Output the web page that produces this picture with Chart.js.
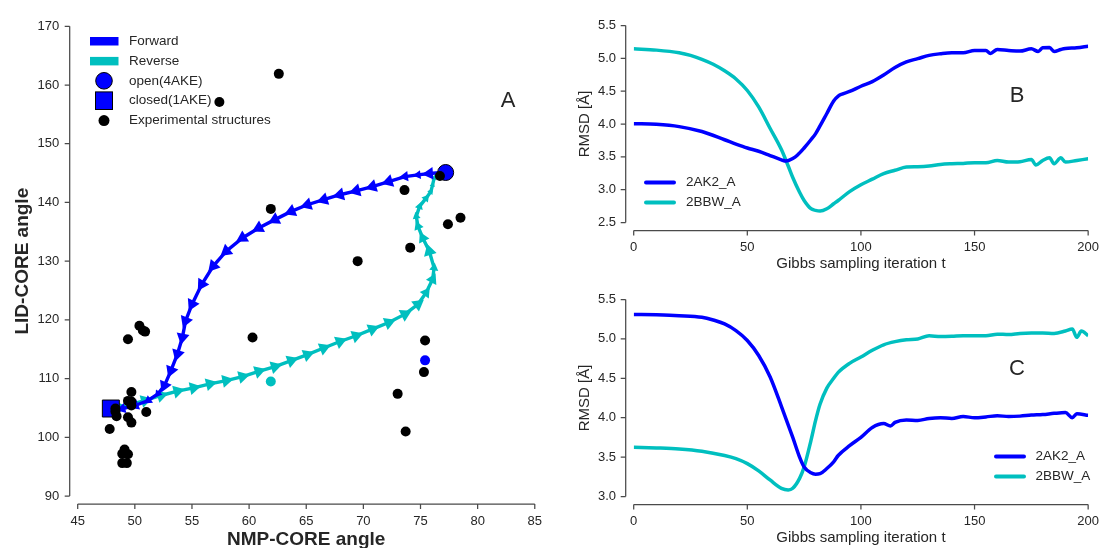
<!DOCTYPE html>
<html>
<head>
<meta charset="utf-8">
<script src="https://cdn.jsdelivr.net/npm/chart.js@4.4.0/dist/chart.umd.min.js"></script>
<style>
html, body { margin: 0; padding: 0; background: #fff; overflow: hidden; width: 1116px; height: 548px; }
canvas { position: absolute; display: block; }
</style>
</head>
<body>
<canvas id="chartA" width="560" height="560" style="left:0;top:0"></canvas>
<canvas id="chartB" width="556" height="274" style="left:560px;top:0"></canvas>
<canvas id="chartC" width="556" height="274" style="left:560px;top:274px"></canvas>
<script>
// ---- panel A : NMP-CORE vs LID-CORE angle ----
const expNMP = [62.6, 57.4, 76.7, 73.6, 61.9, 78.5, 77.4, 74.1, 69.5, 50.4, 50.7, 50.9, 49.4, 60.3, 75.4, 75.3, 73.0, 73.7, 47.8,
                49.7, 49.4, 49.7, 49.7, 48.3, 48.3, 48.4, 49.4, 49.7, 51.0, 49.1, 48.9, 49.4, 48.9, 49.3];
const expLID = [161.9, 157.1, 144.5, 142.1, 138.9, 137.4, 136.3, 132.3, 130.0, 119.0, 118.2, 118.0, 116.7, 117.0, 116.5, 111.1, 107.4, 101.0, 101.4,
                107.7, 106.2, 106.1, 105.4, 104.9, 104.4, 103.6, 103.4, 102.5, 104.3, 97.9, 97.2, 97.1, 95.6, 95.6];
const markedNMP = [75.4, 61.9];
const markedLID = [113.1, 109.5];
const openNMP = [77.2], openLID = [145.1];
const closedNMP = [47.9], closedLID = [104.9];

const fwdNMP = [77.19, 75.77, 74.78, 73.64, 72.22, 70.79, 69.37, 67.95, 66.53, 65.10, 63.69, 62.26, 60.84, 59.42,
                58.00, 56.86, 55.86, 55.01, 54.44, 54.16, 53.73, 53.16, 52.59, 52.02, 51.17, 50.03, 48.89, 47.90];
const fwdLID = [145.14, 144.92, 144.69, 144.41, 143.56, 142.71, 141.98, 141.31, 140.46, 139.61, 138.47, 137.07, 135.64, 133.95,
                131.69, 129.15, 126.05, 122.66, 119.83, 117.0, 114.19, 111.36, 108.81, 107.41, 106.27, 105.42, 104.86, 104.97];
const revNMP = [47.90, 48.89, 50.89, 52.30, 53.73, 55.15, 56.57, 58.00, 59.42, 60.84, 62.26, 63.69, 65.10, 66.53, 67.95, 69.37,
                70.79, 72.22, 73.64, 74.78, 75.49, 76.06, 76.19, 75.77, 75.20, 74.78, 74.63, 74.92, 75.49, 75.91, 76.06, 76.19, 76.48];
const revLID = [104.97, 105.14, 106.27, 107.12, 107.85, 108.42, 109.10, 109.66, 110.34, 111.24, 112.03, 113.05, 114.07, 115.20, 116.32, 117.29,
                118.42, 119.54, 120.97, 122.66, 124.63, 126.90, 128.86, 131.69, 133.95, 135.93, 137.63, 139.32, 140.73, 141.86, 143.0, 144.12, 144.8];

// ---- panel B : RMSD over Gibbs iterations ----
const tB_2AK2 = [0, 10, 20, 30, 40, 45, 50, 55, 60, 65, 67, 70, 72, 75, 78, 80, 82, 85, 88, 90, 92, 95, 100, 105, 110, 115, 120, 125,
                 130, 135, 140, 145, 150, 155, 157, 160, 165, 170, 175, 178, 180, 183, 185, 188, 190, 195, 200];
const rmsdB_2AK2 = [4.005, 3.995, 3.96, 3.885, 3.76, 3.695, 3.635, 3.585, 3.52, 3.455, 3.435, 3.475, 3.525, 3.635, 3.76, 3.85, 3.97, 4.16,
                    4.35, 4.425, 4.46, 4.495, 4.575, 4.645, 4.745, 4.86, 4.945, 4.995, 5.045, 5.07, 5.085, 5.085, 5.12, 5.12, 5.075, 5.135,
                    5.12, 5.11, 5.145, 5.105, 5.16, 5.165, 5.105, 5.135, 5.15, 5.16, 5.185];
const tB_2BBW = [0, 10, 20, 25, 30, 35, 40, 45, 50, 55, 60, 65, 68, 70, 73, 75, 78, 80, 82, 85, 88, 90, 95, 100, 105, 110, 115, 120,
                 125, 130, 135, 140, 145, 150, 155, 160, 165, 170, 175, 177, 180, 183, 185, 188, 190, 195, 200];
const rmsdB_2BBW = [5.145, 5.125, 5.085, 5.045, 4.985, 4.91, 4.81, 4.685, 4.51, 4.26, 3.935, 3.61, 3.36, 3.185, 2.96, 2.835, 2.71, 2.685,
                    2.675, 2.71, 2.785, 2.835, 2.97, 3.075, 3.16, 3.245, 3.295, 3.345, 3.35, 3.36, 3.385, 3.395, 3.40, 3.41, 3.41, 3.445,
                    3.42, 3.425, 3.46, 3.375, 3.445, 3.485, 3.395, 3.485, 3.42, 3.445, 3.47];

// ---- panel C ----
const tC_2AK2 = [0, 10, 20, 30, 35, 40, 45, 50, 55, 60, 65, 70, 73, 75, 78, 80, 82, 85, 88, 90, 95, 100, 105, 110, 113, 115, 120,
                 125, 130, 135, 140, 145, 150, 155, 160, 165, 170, 175, 180, 185, 190, 193, 195, 200];
const rmsdC_2AK2 = [5.31, 5.305, 5.295, 5.275, 5.24, 5.19, 5.105, 4.98, 4.79, 4.52, 4.145, 3.75, 3.50, 3.375, 3.30, 3.283, 3.29, 3.355,
                    3.44, 3.52, 3.645, 3.75, 3.875, 3.925, 3.895, 3.94, 3.97, 3.965, 3.99, 4.00, 3.99, 4.015, 4.00, 4.01, 4.025, 4.015,
                    4.02, 4.033, 4.04, 4.055, 4.065, 4.00, 4.05, 4.03];
const tC_2BBW = [0, 10, 20, 30, 40, 45, 50, 55, 60, 65, 68, 70, 73, 75, 78, 80, 82, 85, 88, 90, 95, 100, 105, 110, 115, 120, 125,
                 130, 135, 140, 145, 150, 155, 160, 165, 170, 175, 180, 185, 190, 193, 195, 197, 200];
const rmsdC_2BBW = [3.625, 3.617, 3.604, 3.575, 3.52, 3.48, 3.417, 3.325, 3.21, 3.104, 3.083, 3.104, 3.23, 3.375, 3.71, 3.96, 4.17, 4.375,
                    4.50, 4.575, 4.69, 4.77, 4.855, 4.925, 4.965, 4.99, 5.00, 5.04, 5.03, 5.033, 5.04, 5.04, 5.04, 5.06, 5.055, 5.07,
                    5.075, 5.075, 5.07, 5.10, 5.125, 5.02, 5.10, 5.04];

const BLUE = '#0000ff', CYAN = '#00bfbf', TXT = '#262626', SPINE = '#4a4a4a';
const FONT = '"Liberation Sans", Arial, sans-serif';

const pts = (xs, ys) => xs.map((x, i) => ({ x: x, y: ys[i] }));

// seaborn-style offset spines with outward ticks
const spines = {
  id: 'spines',
  afterDraw(chart) {
    const ctx = chart.ctx, area = chart.chartArea;
    const xs = chart.scales.x, ys = chart.scales.y;
    const off = 8, tl = 5;
    const yb = area.bottom + off, xl = area.left - off;
    ctx.save();
    ctx.strokeStyle = SPINE;
    ctx.lineWidth = 1.25;
    ctx.beginPath();
    ctx.moveTo(xs.getPixelForValue(xs.min), yb);
    ctx.lineTo(xs.getPixelForValue(xs.max), yb);
    xs.ticks.forEach(t => { const p = xs.getPixelForValue(t.value); ctx.moveTo(p, yb); ctx.lineTo(p, yb + tl); });
    ctx.moveTo(xl, ys.getPixelForValue(ys.min));
    ctx.lineTo(xl, ys.getPixelForValue(ys.max));
    ys.ticks.forEach(t => { const p = ys.getPixelForValue(t.value); ctx.moveTo(xl, p); ctx.lineTo(xl - tl, p); });
    ctx.stroke();
    ctx.restore();
  }
};

// panel letter + hand placed legend
const decor = {
  id: 'decor',
  afterDraw(chart, args, o) {
    const ctx = chart.ctx;
    ctx.save();
    ctx.fillStyle = TXT;
    ctx.textBaseline = 'middle';
    ctx.textAlign = 'center';
    ctx.font = '22px ' + FONT;
    ctx.fillText(o.letter, o.letterX, o.letterY);
    ctx.textAlign = 'left';
    ctx.font = '13.5px ' + FONT;
    o.items.forEach((it, i) => {
      const y = o.y + i * o.step;
      ctx.fillStyle = it.color;
      ctx.strokeStyle = '#000';
      ctx.lineWidth = 1;
      if (it.kind === 'box') {
        ctx.fillRect(o.x - 14, y - 4, 28.5, 8.5);
      } else if (it.kind === 'line') {
        ctx.strokeStyle = it.color; ctx.lineWidth = 4; ctx.lineCap = 'round';
        ctx.beginPath(); ctx.moveTo(o.x - 14, y); ctx.lineTo(o.x + 14, y); ctx.stroke();
      } else if (it.kind === 'circle') {
        ctx.beginPath(); ctx.arc(o.x, y, 8.3, 0, Math.PI * 2); ctx.fill(); ctx.stroke();
      } else if (it.kind === 'rect') {
        ctx.fillRect(o.x - 8.5, y - 8.8, 17, 17.6); ctx.strokeRect(o.x - 8.5, y - 8.8, 17, 17.6);
      } else if (it.kind === 'dot') {
        ctx.beginPath(); ctx.arc(o.x, y, 5.5, 0, Math.PI * 2); ctx.fill();
      }
      ctx.fillStyle = TXT;
      ctx.fillText(it.label, o.textX, y);
    });
    ctx.restore();
  }
};

function segPix(c) {
  const d = c.dataset.data, i = c.dataIndex;
  const sx = c.chart.scales.x, sy = c.chart.scales.y;
  const a = d[Math.max(i - 1, 0)], b = d[Math.max(i, 1)];
  return { dx: sx.getPixelForValue(b.x) - sx.getPixelForValue(a.x), dy: sy.getPixelForValue(b.y) - sy.getPixelForValue(a.y) };
}
const arrowRot = c => { const s = segPix(c); return Math.atan2(s.dx, -s.dy) * 180 / Math.PI; };
const arrowSize = c => { if (c.dataIndex === 0) return 0; const s = segPix(c); return Math.min(7.5, Math.hypot(s.dx, s.dy) * 0.45); };

function pathSet(label, color, xs, ys) {
  return {
    label: label, data: pts(xs, ys), showLine: true, borderColor: color, borderWidth: 3.4,
    pointStyle: 'triangle', pointRadius: arrowSize, pointHoverRadius: arrowSize, rotation: arrowRot,
    pointBackgroundColor: color, pointBorderWidth: 0, tension: 0
  };
}

const tickFont = { family: FONT, size: 13 };

new Chart(document.getElementById('chartA'), {
  type: 'scatter',
  data: {
    datasets: [
      { label: 'Experimental structures', data: pts(expNMP, expLID), pointRadius: 5, pointHoverRadius: 5, backgroundColor: '#000', borderWidth: 0 },
      { label: 'marked', data: pts(markedNMP, markedLID), pointRadius: 5, pointHoverRadius: 5, backgroundColor: [BLUE, CYAN], borderWidth: 0 },
      { label: 'open(4AKE)', data: pts(openNMP, openLID), pointRadius: 8, pointHoverRadius: 8, backgroundColor: BLUE, borderColor: '#000', borderWidth: 1 },
      { label: 'closed(1AKE)', data: pts(closedNMP, closedLID), pointStyle: 'rect', pointRadius: 12, pointHoverRadius: 12, backgroundColor: BLUE, borderColor: '#000', borderWidth: 1 },
      pathSet('Forward', BLUE, fwdNMP, fwdLID),
      pathSet('Reverse', CYAN, revNMP, revLID)
    ]
  },
  options: {
    responsive: false, animation: false,
    layout: { padding: { left: 0, top: 22, right: 13.3, bottom: 0 } },
    plugins: {
      legend: { display: false }, tooltip: { enabled: false },
      decor: {
        letter: 'A', letterX: 508, letterY: 101,
        x: 104, textX: 129, y: 41, step: 19.9,
        items: [
          { kind: 'box', color: BLUE, label: 'Forward' },
          { kind: 'box', color: CYAN, label: 'Reverse' },
          { kind: 'circle', color: BLUE, label: 'open(4AKE)' },
          { kind: 'rect', color: BLUE, label: 'closed(1AKE)' },
          { kind: 'dot', color: '#000', label: 'Experimental structures' }
        ]
      }
    },
    scales: {
      x: {
        type: 'linear', min: 45, max: 85,
        grid: { display: false, drawTicks: false }, border: { display: false },
        ticks: { stepSize: 5, font: tickFont, color: TXT, padding: 18 },
        title: { display: true, text: 'NMP-CORE angle', color: TXT, font: { family: FONT, size: 19, weight: 'bold' }, padding: { top: 0, bottom: 9 } },
        afterFit: s => { s.height = 64; }
      },
      y: {
        type: 'linear', min: 90, max: 170,
        grid: { display: false, drawTicks: false }, border: { display: false },
        ticks: { stepSize: 10, font: tickFont, color: TXT, padding: 18.5 },
        title: { display: true, text: 'LID-CORE angle', color: TXT, font: { family: FONT, size: 19, weight: 'bold' }, padding: { top: 11, bottom: 0 } },
        afterFit: s => { s.width = 77.7; }
      }
    }
  },
  plugins: [spines, decor]
});

function rmsdChart(id, yMin, t1, v1, t2, v2, letter, letterY, legX, legTextX) {
  const line = (label, color, ts, vs) => ({
    label: label, data: pts(ts, vs), showLine: true, borderColor: color, borderWidth: 3.5,
    pointRadius: 0, pointHoverRadius: 0, cubicInterpolationMode: 'monotone'
  });
  return new Chart(document.getElementById(id), {
    type: 'scatter',
    data: { datasets: [line('2AK2_A', BLUE, t1, v1), line('2BBW_A', CYAN, t2, v2)] },
    options: {
      responsive: false, animation: false,
      layout: { padding: { left: 0, top: 22, right: 12.7, bottom: 0 } },
      plugins: {
        legend: { display: false }, tooltip: { enabled: false },
        decor: {
          letter: letter, letterX: 457, letterY: letterY,
          x: legX, textX: legTextX, y: 182.5, step: 20,
          items: [
            { kind: 'line', color: BLUE, label: '2AK2_A' },
            { kind: 'line', color: CYAN, label: '2BBW_A' }
          ]
        }
      },
      scales: {
        x: {
          type: 'linear', min: 0, max: 200,
          grid: { display: false, drawTicks: false }, border: { display: false },
          ticks: { stepSize: 50, font: tickFont, color: TXT, padding: 17 },
          title: { display: true, text: 'Gibbs sampling iteration t', color: TXT, font: { family: FONT, size: 15 }, padding: { top: 0, bottom: 1 } },
          afterFit: s => { s.height = 51.5; }
        },
        y: {
          type: 'linear', min: yMin, max: 5.5,
          grid: { display: false, drawTicks: false }, border: { display: false },
          ticks: { stepSize: 0.5, font: tickFont, color: TXT, padding: 17.7, callback: v => v.toFixed(1) },
          title: { display: true, text: 'RMSD [Å]', color: TXT, font: { family: FONT, size: 15 }, padding: { top: 16, bottom: 0 } },
          afterFit: s => { s.width = 73.7; }
        }
      }
    },
    plugins: [spines, decor]
  });
}

rmsdChart('chartB', 2.5, tB_2AK2, rmsdB_2AK2, tB_2BBW, rmsdB_2BBW, 'B', 96, 100, 126);
rmsdChart('chartC', 3.0, tC_2AK2, rmsdC_2AK2, tC_2BBW, rmsdC_2BBW, 'C', 95, 450, 475.5);
</script>
</body>
</html>
